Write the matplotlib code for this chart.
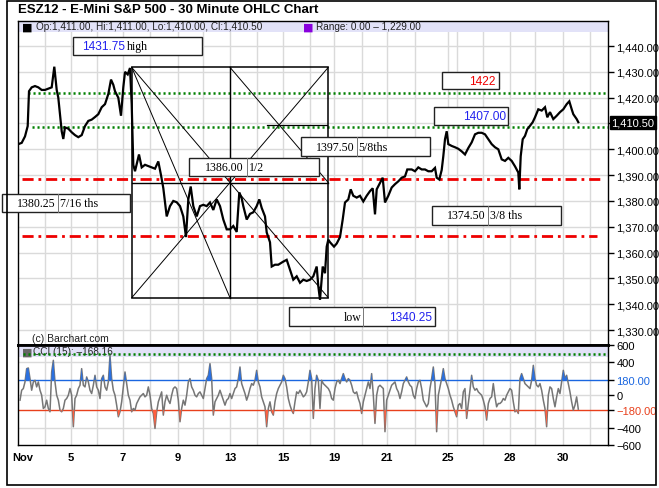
import numpy as np
import matplotlib
matplotlib.use('Agg')
import matplotlib.pyplot as plt
from matplotlib.patches import Rectangle

plt.rcParams['font.family'] = ['Liberation Sans', 'DejaVu Sans']
plt.rcParams['lines.scale_dashes'] = False

# ---------------- data ----------------
title = "ESZ12 - E-Mini S&P 500 - 30 Minute OHLC Chart"
legend_main = "Op:1,411.00, Hi:1,411.00, Lo:1,410.00, Cl:1,410.50"
legend_range = "Range: 0.00 \u2013 1,229.00"
legend_cci = "CCI (15): \u2013168.16"

# session position (x) and close price of the 30-minute bars
price_x = [18.3, 21.7, 25, 27.7, 29, 31.7, 35, 38.3, 41.7, 45, 48.3, 51.7, 54.3, 56.7, 58.3, 60, 61.7,
           63.3, 65, 68.3, 71.7, 75, 78.3, 81.7, 85, 88.3, 91.7, 95, 98.3, 101.7, 105, 108.3, 111,
           113.3, 115, 118.3, 121, 123.3, 125, 127.7, 130, 131.7, 133.3, 135, 139, 141.7, 145, 148.3,
           151.7, 155, 158.3, 161, 163.3,
           166.7, 170, 173.3, 176.7, 180, 183.3, 186, 188.3, 190.7, 193.3, 196.7, 200, 203.3, 206.7,
           210, 213.3, 216.7, 220, 223.3, 226.7, 230, 233.3, 236.7, 239.3, 241.7, 243.3, 246.7, 250,
           253.3, 256.7, 259.3, 261.7, 265, 266.7, 270, 271.7, 275, 278.3, 283.3, 286.7, 290, 293.3,
           296.7, 300, 303.3, 306.7, 310, 313.3, 316.7, 318.3, 320, 322.7, 325, 326.7, 328.3,
           330, 334, 336.7, 340, 342.7, 345, 348.3, 350.7, 353.3, 356.7, 360, 363.3, 366.7, 370,
           372.7, 375, 376.7, 380, 382.7, 385, 388.3, 391.7, 395, 398.3, 401.7, 405, 407.3, 411.7,
           415, 418.3, 421.7, 425, 428.3, 431.7, 435, 436.7, 439.3,
           441.7, 443.3, 445, 446.7, 448.3, 451.7, 455, 458.3, 461.7, 465, 468.3, 471.7, 475, 478.3,
           481.7, 485, 488.3, 491.7, 495, 498.3, 501.7, 505, 508.3, 511.7, 515, 518.3, 519.3, 520.7,
           522.7, 525, 527.3, 530, 532.7, 535, 538.3, 541.7, 545, 547.3, 550, 553.3, 556.7, 560,
           563.3, 566.7, 569.3, 571.7, 573.3, 576.7, 578.3]
price_close = [1402, 1402.5, 1405, 1409, 1422.5, 1424, 1424.5, 1424, 1423, 1423, 1423.5, 1424, 1432,
               1423, 1420, 1413.6, 1407, 1404, 1408.5, 1408, 1406.6, 1405.5, 1404.7, 1405.5, 1409,
               1411, 1411.5, 1412.5, 1413.6, 1416.3, 1417.5, 1421.4, 1427, 1425, 1422.5, 1420, 1413,
               1424, 1430, 1429, 1431.5, 1417.5, 1394, 1391.5, 1398, 1393, 1394, 1393.5, 1393,
               1392.5, 1395.3, 1390, 1385,
               1374, 1378, 1380, 1379.5, 1378, 1374, 1366, 1380.6, 1385.6, 1378, 1374, 1378, 1378.5,
               1378, 1379.4, 1376.5, 1380.6, 1378, 1372.8, 1369, 1369, 1370.3, 1368, 1383.3, 1381,
               1378, 1372.8, 1375, 1375.6, 1378, 1380.6, 1377.3, 1374, 1367.8, 1364, 1354.6, 1355.3,
               1355.3, 1356.5, 1357.2, 1353.4, 1349.5, 1350.8, 1348.3, 1349.5, 1349, 1349.5, 1350.8,
               1354.6, 1347, 1341.7, 1354.6, 1352, 1362.3, 1365,
               1364, 1362.3, 1363.5, 1366, 1372.8, 1379.4, 1380.6, 1384.5, 1382, 1381.3, 1382,
               1379.8, 1382, 1383.8, 1384.9, 1374.8, 1384.5, 1387, 1389, 1379.4, 1382, 1385.2,
               1386.5, 1387.6, 1389, 1389.5, 1392.2, 1392.2, 1391.5, 1393, 1392.2, 1392.2, 1391.5,
               1391.5, 1392.8, 1389, 1388.3,
               1392, 1397.3, 1403.9, 1407, 1402, 1401.3, 1400.8, 1400.2, 1399.2, 1398, 1400.5,
               1402.7, 1405.8, 1406.4, 1406.4, 1405.8, 1403.9, 1402, 1400.8, 1400, 1396.1, 1395.5,
               1396.7, 1395.5, 1393.4, 1391, 1384.5, 1397.3, 1403.9, 1405.2, 1407.8, 1409.1, 1410.5,
               1412.4, 1415.5, 1415, 1416.3, 1412.4, 1414.4, 1411.7, 1413, 1414.4, 1415.5, 1417.5,
               1418.6, 1415.5, 1413.6, 1411.7, 1410.5]
last_price = 1410.50

# CCI(15) values, sampled evenly along the session axis
cci_values = [-60, 60, 80, 160, 320, 328, 200, 60, 160, 180, 100, 160, 60, 0, -160, -140, -60, -160,
              -200, 280, 420, 160, 0, -60, -180, -200, -160, -60, -40, 0, 80, 0, -380, -40, 0, 80,
              120, 320, 120, 100, 220, 160, 60, 20, 120, 240, 100, 60, -40, 200, 240, 100, 60, 160,
              480, 200, 60, 0, -120, -260, -200, -80, 100, 280, 140, 0, -60, -200, -160, -180, -100,
              -60, -20, 0, 20, -20, 0, 100, 0, -160, -220, -400, -200, -80, -20, 40, -240, -80, 0,
              -60, -100, 0, 80, 100, 80, -60, -320, -160, -60, -120, 0, 160, 200, 100, 60, 0, -20,
              20, 40, 0, -40, 80, 200, 240, 380, 200, -240, -80, -40, 0, 60, 0, -60, -120, -60, -40,
              20, -40, 20, 80, 100, 200, 340, 140, 80, 20, -60, 0, 80, 140, 120, 180, 300, 160, 100,
              -20, -80, -140, -380, -160, -80, -200, -240, -80, 20, 80, 120, 160, 240, 200, 100,
              -40, -120, -180, -220, -80, 40, 20, 60, 20, -20, 0, 40, 160, 300, 200, -280, 80, 240,
              180, -160, 180, 140, 120, 100, 80, 40,
              -40, -60, 80, 160, 180, 140, 200, 260, 200, 160, 200, 180, 120, 40, 20, 40, -40, -100,
              -220, -80, 0, 80, 160, 80, 260, 0, -340, 0, 100, 120, 100, 80, -440, -60, 0, 60, 120,
              140, 160, 80, 40, -40, 40, 140, 180, 220, 160, 120, 100, 0, -40, 80, 160, 180, 80, -60,
              -100, -140, -100, 80, 200, 340, 140, -440, 0, 100, 200, 320, 200, 140, 80, 0, -60,
              -140, -200, -260, -120, -100, -160, 40, 80, -280, -100, 60, 240, 100, 60, 80, 40, 20,
              0, -60, -140, -300, -100, -40, -20, 140, -20, -140, -100, -100, -80, -40, -60, 0, 40,
              80, 60, -80, -200, -180, -220, 200, 260, 200, 140, 120, 100, 80, 180, 360, 200, 120,
              100, 140, 60, -60, -160, -380, 0, 100, 80, -40, -140, -20, 80, 20, 160, 300, 200, 240,
              140, 40, -80, -180, -120, -20, -168.16]

# Fibonacci / Gann annotations
gann_high = 1431.75
gann_low = 1342.5
green_levels = [1422.0, 1408.75]
red_levels = [1388.5, 1366.6]
cci_bands = [180, -180]

day_tick_x = [23, 71, 123, 178, 230, 283, 334, 387, 448, 510, 563]
day_labels = ['Nov', '5', '7', '9', '13', '15', '19', '21', '25', '28', '30']
day_grid_x = [45, 71, 97, 123, 150, 178, 203, 230, 257, 283, 310, 334, 362, 387, 415, 448, 457,
              483, 510, 535, 563, 590]
price_ticks = [1330, 1340, 1350, 1360, 1370, 1380, 1390, 1400, 1410, 1420, 1430, 1440]
cci_ticks = [-600, -400, -180, 0, 180, 400, 600]
cci_tick_labels = ['\u2212600', '\u2212400', '\u2212180.00', '0', '180.00', '400', '600']

# ---------------- layout ----------------
W, H = 659, 489
fig = plt.figure(figsize=(W / 100, H / 100), dpi=100)
fig.patch.set_facecolor('white')


def fr(x0, y0, x1, y1):
    return [x0 / W, 1 - y1 / H, (x1 - x0) / W, (y1 - y0) / H]


ax = fig.add_axes(fr(18, 22, 608, 346))
ax2 = fig.add_axes(fr(18, 346, 608, 446))

# outer border
fig.add_artist(Rectangle((7 / W, 1 - 486 / H), (656 - 7) / W, (486 - 2) / H,
                         transform=fig.transFigure, fill=False, edgecolor='black', lw=1.2))

fig.text(18 / W, 1 - 10 / H, title, fontsize=9.5, fontweight='bold', va='center', ha='left')

GRID = '#dadada'
SERIF = ['Liberation Serif', 'DejaVu Serif']

# ---- main panel ----
ax.set_xlim(18, 608)
ax.set_ylim(1324.2, 1449.7)
for gx in day_grid_x:
    ax.axvline(gx, color=GRID, lw=1, zorder=0)
for p in price_ticks:
    ax.axhline(p, color=GRID, lw=1, zorder=0)

ax.add_patch(Rectangle((0, 1 - 11 / 324), 1, 11 / 324, transform=ax.transAxes,
                       facecolor='#e2e2f8', edgecolor='none', zorder=1))
ax.text(4 / 590, 1 - 5.5 / 324, '\u25a0', transform=ax.transAxes, fontsize=8, va='center',
        color='black', family=['DejaVu Sans'])
ax.text(18 / 590, 1 - 5.5 / 324, legend_main, transform=ax.transAxes, fontsize=7.2,
        va='center', color='#222')
ax.text(285 / 590, 1 - 5.5 / 324, '\u25a0', transform=ax.transAxes, fontsize=8, va='center',
        color='#8800dd', family=['DejaVu Sans'])
ax.text(298 / 590, 1 - 5.5 / 324, legend_range, transform=ax.transAxes, fontsize=7.2,
        va='center', color='#222')

# green dotted levels
ax.plot([28, 608], [green_levels[0]] * 2, color='#008000', lw=1.8, ls=(0, (1.5, 2.1)), zorder=3)
ax.plot([32, 608], [green_levels[1]] * 2, color='#008000', lw=1.8, ls=(0, (1.5, 2.1)), zorder=3)
# red dash-dot levels
ax.plot([22, 603], [red_levels[0]] * 2, color='#ee0000', lw=2, ls=(0, (8, 3.5, 2, 3.5)), zorder=3)
ax.plot([22, 597], [red_levels[1]] * 2, color='#ee0000', lw=2, ls=(0, (8, 3.5, 2, 3.5)), zorder=3)

# Gann box
bx0, bx1 = 131.7, 328.3
bxm = (bx0 + bx1) / 2
pmid = (gann_high + gann_low) / 2
ax.add_patch(Rectangle((bx0, gann_low), bx1 - bx0, gann_high - gann_low, fill=False,
                       edgecolor='black', lw=1.1, zorder=4))
ax.plot([bxm, bxm], [gann_low, gann_high], color='black', lw=1.0, zorder=4)
ax.plot([bx0, bx1], [pmid, pmid], color='black', lw=1.0, zorder=4)
thin = dict(color='black', lw=0.7, zorder=4)
ax.plot([bx0, bxm], [gann_high, gann_low], **thin)
ax.plot([bx0, bx1], [gann_high, gann_low], **thin)
ax.plot([bx0, bx1], [gann_low, gann_high], **thin)
ax.plot([bxm, bx1], [gann_high, pmid], **thin)
# crossing of the upper-right X
s1 = (gann_high - gann_low) / (bx1 - bx0)
s2 = (pmid - gann_high) / (bx1 - bxm)
xc = (gann_high - s2 * bxm - gann_low + s1 * bx0) / (s1 - s2)
pc = gann_low + s1 * (xc - bx0)
ax.plot([266.7, 326.7], [pc, pc], color='black', lw=0.9, zorder=4)

# price line
ax.plot(price_x, price_close, color='black', lw=1.6, zorder=5, solid_joinstyle='miter')

ax.text(32, 1326.8, '(c) Barchart.com', fontsize=7.5, color='#222', va='center', zorder=5)


def label_box(x0, x1, pb, pt, parts, div=None):
    ax.add_patch(Rectangle((x0, pb), x1 - x0, pt - pb, facecolor='white', edgecolor='#222',
                           lw=1.0, zorder=6, clip_on=False))
    if div is not None:
        ax.plot([div, div], [pb, pt], color='#777', lw=0.7, zorder=7, clip_on=False)
    for (x, s, ha, color, fam) in parts:
        ax.text(x, (pb + pt) / 2, s, ha=ha, va='center', color=color, family=fam,
                fontsize=8.6, zorder=8, clip_on=False)


BLUE = '#2222ee'
label_box(72.7, 202.3, 1436.6, 1443.4,
          [(125, '1431.75', 'right', BLUE, ['Liberation Sans']), (127, 'high', 'left', 'black', SERIF)])
label_box(441.7, 499.3, 1423.3, 1429.8, [(496, '1422', 'right', '#ee0000', ['Liberation Sans'])])
label_box(434.3, 508.3, 1409.4, 1416.3, [(506.5, '1407.00', 'right', BLUE, ['Liberation Sans'])])
label_box(189.3, 319, 1389.5, 1396.6,
          [(244, '1386.00', 'right', 'black', SERIF), (249, '1/2', 'left', 'black', SERIF)], div=246.7)
label_box(300.7, 430, 1397.5, 1404.6,
          [(354.5, '1397.50', 'right', 'black', SERIF), (358.5, '5/8ths', 'left', 'black', SERIF)],
          div=356.7)
label_box(2, 130, 1375.6, 1382.7,
          [(55.5, '1380.25', 'right', 'black', SERIF), (59.5, '7/16 ths', 'left', 'black', SERIF)],
          div=57.7)
label_box(431.7, 561, 1370.8, 1378.2,
          [(486, '1374.50', 'right', 'black', SERIF), (490.5, '3/8 ths', 'left', 'black', SERIF)],
          div=488.3)
label_box(289.3, 435, 1331.4, 1338.8,
          [(362, 'low', 'right', 'black', SERIF), (432, '1340.25', 'right', BLUE, ['Liberation Sans'])],
          div=363.3)

ax.yaxis.tick_right()
ax.set_yticks(price_ticks)
# the 1,410.00 label sits under the last-price marker
ax.set_yticklabels(['' if p == 1410 else f'{p:,.2f}' for p in price_ticks])
ax.tick_params(axis='y', direction='out', length=4, width=1, labelsize=8, pad=2, colors='black')
ax.set_xticks([])
for sp in ax.spines.values():
    sp.set_color('black')
    sp.set_linewidth(1)
ax.spines['bottom'].set_linewidth(2)
ax.text(611.5, last_price, f'{last_price:,.2f}', color='white', fontsize=8, va='center',
        ha='left', clip_on=False, zorder=9,
        bbox=dict(boxstyle='square,pad=0.15', facecolor='black', edgecolor='black'))

# ---- CCI panel ----
cci = np.array(cci_values, dtype=float)
cci_x = np.linspace(20, 578.3, len(cci))
ax2.set_xlim(18, 608)
ax2.set_ylim(-600, 605)
for gx in day_grid_x:
    ax2.axvline(gx, color=GRID, lw=1, zorder=0)
for g in [-400, 0, 400]:
    ax2.axhline(g, color=GRID, lw=1, zorder=0)
ax2.add_patch(Rectangle((0, 1 - 12 / 100), 1, 11 / 100, transform=ax2.transAxes,
                        facecolor='#e2e2f8', edgecolor='none', zorder=1))
ax2.text(4 / 590, 1 - 6.5 / 100, '\u25a0', transform=ax2.transAxes, fontsize=8, va='center',
         color='#666', family=['DejaVu Sans'], zorder=2)
ax2.text(15 / 590, 1 - 6.5 / 100, legend_cci, transform=ax2.transAxes, fontsize=7.2,
         va='center', color='#222', zorder=2)
ax2.plot([23, 608], [492, 492], color='#008000', lw=1.8, ls=(0, (1.5, 2.1)), zorder=3)
ax2.axhline(cci_bands[0], color='#1a66e0', lw=1, zorder=2)
ax2.axhline(cci_bands[1], color='#e8401c', lw=1, zorder=2)
ax2.plot(cci_x, cci, color='#767676', lw=1.1, zorder=3)
ax2.fill_between(cci_x, cci, cci_bands[0], where=cci >= cci_bands[0], interpolate=True,
                 color='#2a70e0', lw=0, zorder=4)
ax2.fill_between(cci_x, cci, cci_bands[1], where=cci <= cci_bands[1], interpolate=True,
                 color='#ff6040', lw=0, zorder=4)

ax2.yaxis.tick_right()
ax2.set_yticks(cci_ticks)
ax2.set_yticklabels(cci_tick_labels)
ax2.tick_params(axis='y', direction='out', length=4, width=1, labelsize=8, pad=2, colors='black')
for lab in ax2.get_yticklabels():
    if lab.get_text() == '180.00':
        lab.set_color('#1a66e0')
    elif lab.get_text() == '\u2212180.00':
        lab.set_color('#e8401c')
ax2.set_xticks(day_tick_x)
ax2.set_xticklabels(day_labels, fontweight='bold', fontsize=8)
ax2.tick_params(axis='x', length=0, pad=5)
for sp in ax2.spines.values():
    sp.set_color('black')
    sp.set_linewidth(1)
ax2.spines['top'].set_linewidth(2)

fig.savefig('out.png', dpi=100, facecolor='white')
